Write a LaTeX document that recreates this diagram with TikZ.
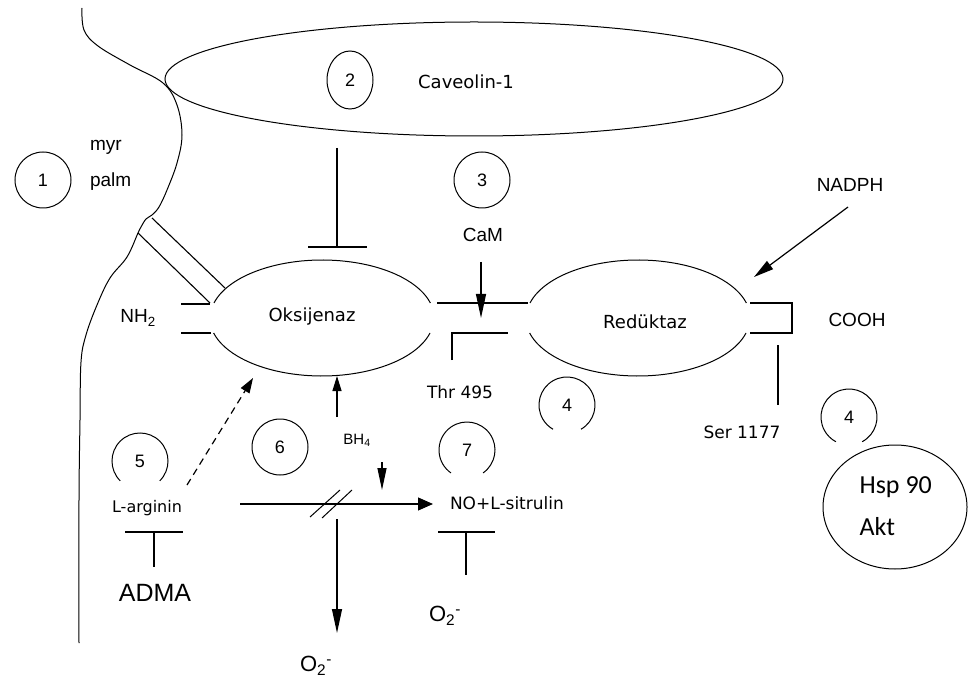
\documentclass[tikz,border=0pt]{standalone}
\usepackage{fontspec}
\setmainfont{DejaVu Sans}
\newfontfamily\arialf{Liberation Sans}
\newfontfamily\calf{Carlito}
\usetikzlibrary{arrows.meta,shapes.geometric}
\begin{document}
\begin{tikzpicture}[x=1pt,y=-1pt, line width=1.2pt, line cap=butt,
  lbl/.style={inner sep=0pt, outer sep=0pt, font=\fontsize{18}{20}\selectfont},
  albl/.style={inner sep=0pt, outer sep=0pt, font=\arialf\fontsize{19}{21}\selectfont},
  num/.style={circle, draw, line width=1pt, minimum size=56pt, inner sep=0pt, outer sep=0pt, font=\arialf\fontsize{18}{20}\selectfont},
  onum/.style={circle, minimum size=56pt, inner sep=0pt, outer sep=0pt, font=\arialf\fontsize{18}{20}\selectfont},
  ring/.style={line width=1pt},
  shell/.style={line width=1pt},
  arr/.style={-{Triangle[length=#1,width=10pt]}},
  inhib/.style={line width=1.2pt}
]
\useasboundingbox (0,0) rectangle (976,684);
\fill[white] (0,0) rectangle (976,684);

% membrane
\draw[shell] plot[smooth, tension=0.6] coordinates {(82,8) (84,30) (98,46) (130,65) (163,83) (177,105) (182,135) (177,163) (167,190) (159,207) (152,215) (146,219) (141,227) (138,233) (127,257) (110,278) (97,305) (86,335) (81,362) (80,420) (79,500) (79,643)};

% palmitoyl anchor
\coordinate (anA1) at (138,233);
\coordinate (anA2) at (210,303);
\coordinate (anB1) at (152,218);
\coordinate (anB2) at (225,288);
\draw[line width=1.1pt] (anA1) -- (anA2);
\draw[line width=1.1pt] (anB1) -- (anB2);

% caveolin
\node[ellipse, draw, line width=1pt, minimum width=618pt, minimum height=114pt] (cav) at (474,79) {};
\node[ellipse, draw, line width=1pt, minimum width=46pt, minimum height=58pt, inner sep=0pt, font=\arialf\fontsize{18}{20}\selectfont] (c2) at (350,80) {2};
\node[lbl] (cavt) at (466,82) {Caveolin-1};

% circle 1
\node[num] (c1) at (43,180) {1};
\node[albl, anchor=west] (myr) at (90,147) {myr};
\node[albl, anchor=west] (palm) at (90,182) {palm};

% oksijenaz
\draw[shell] (214,303) arc[start angle=-165, end angle=-15, x radius=112, y radius=58];
\draw[shell] (430,333) arc[start angle=15, end angle=165, x radius=112, y radius=58];
\node[lbl] (oks) at (312,317) {Oksijenaz};

% reduktaz
\draw[shell] (530,303) arc[start angle=-165, end angle=-15, x radius=112, y radius=58];
\draw[shell] (746,333) arc[start angle=15, end angle=165, x radius=112, y radius=58];
\node[lbl] (red) at (645,322) {Redüktaz};

% NH2 stubs
\node[albl] (nh2) at (138,318) {NH\textsubscript{2}};
\coordinate (nhA) at (181,304); \coordinate (nhB) at (210,304);
\coordinate (nhC) at (181,333); \coordinate (nhD) at (211,333);
\draw (nhA) -- (nhB);
\draw (nhC) -- (nhD);

% linker and Thr bracket
\coordinate (lk1) at (437,303); \coordinate (lk2) at (528,303);
\draw (lk1) -- (lk2);
\coordinate (th1) at (452,360); \coordinate (th2) at (452,333); \coordinate (th3) at (508,333);
\draw (th1) -- (th2) -- (th3);
\node[lbl, font=\fontsize{17}{19}\selectfont] (thr) at (460,392) {Thr 495};

% COOH bracket
\coordinate (cb1) at (750,303); \coordinate (cb2) at (792,303);
\coordinate (cb3) at (792,333); \coordinate (cb4) at (750,333);
\draw (cb1) -- (cb2) -- (cb3) -- (cb4);
\node[albl] (cooh) at (857,320) {COOH};
\coordinate (se1) at (778,345); \coordinate (se2) at (778,405);
\draw (se1) -- (se2);
\node[lbl, font=\fontsize{17}{19}\selectfont] (ser) at (742,432) {Ser 1177};

% caveolin inhibition
\coordinate (cv1) at (337,148); \coordinate (cv2) at (337,247);
\coordinate (cvL) at (308,247); \coordinate (cvR) at (367,247);
\draw[inhib] (cv1) -- (cv2);
\draw[inhib] (cvL) -- (cvR);

% circle 3, CaM
\node[num] (c3) at (482,180) {3};
\node[albl] (cam) at (483,235) {CaM};
\coordinate (cm1) at (481,262); \coordinate (cm2) at (481,318);
\draw[-{Triangle[length=24pt,width=10pt]}] (cm1) -- (cm2);

% NADPH
\node[albl] (nadph) at (850,185) {NADPH};
\coordinate (nd1) at (848,207); \coordinate (nd2) at (754,277);
\draw[-{Triangle[length=20pt,width=10pt]}] (nd1) -- (nd2);

% circles 4
\node[onum] (c4a) at (567,405) {4};
\draw[ring] (c4a.-60) arc[start angle=60, end angle=-240, radius=28];
\node[onum] (c4b) at (849,417) {4};
\draw[ring] (c4b.-62) arc[start angle=62, end angle=-242, radius=28];

% Hsp90 / Akt
\node[ellipse, draw, line width=1pt, minimum width=144pt, minimum height=124pt] (hsp) at (895,507) {};
\node[anchor=west, inner sep=0pt, font=\calf\fontsize{26}{28}\selectfont] (hspt) at (859,487) {Hsp 90};
\node[anchor=west, inner sep=0pt, font=\calf\fontsize{26}{28}\selectfont] (akt) at (859,527) {Akt};

% circles 5,6,7
\node[onum] (c5) at (140,461) {5};
\draw[ring] (c5.-45) arc[start angle=45, end angle=-225, radius=28];
\node[num] (c6) at (280,447) {6};
\node[onum] (c7) at (467,450) {7};
\draw[ring] (c7.-55) arc[start angle=55, end angle=-235, radius=28];

% L-arginin, ADMA
\node[lbl, font=\fontsize{16}{18}\selectfont] (larg) at (147,508) {L-arginin};
\coordinate (ad1) at (125,532); \coordinate (ad2) at (183,532);
\coordinate (ad3) at (154,532); \coordinate (ad4) at (154,567);
\draw[inhib] (ad1) -- (ad2);
\draw[inhib] (ad3) -- (ad4);
\node[inner sep=0pt, font=\arialf\fontsize{25}{27}\selectfont] (adma) at (155,593) {ADMA};

% dashed arrow
\coordinate (ds1) at (187,485); \coordinate (ds2) at (253,378);
\draw[dash pattern=on 7pt off 5pt, -{Triangle[length=15pt,width=10pt]}] (ds1) -- (ds2);

% BH4
\node[albl, font=\arialf\fontsize{15}{17}\selectfont] (bh4) at (357,440) {BH\textsubscript{4}};
\coordinate (bu1) at (337,417); \coordinate (bu2) at (337,376);
\draw[-{Triangle[length=15pt,width=9pt]}] (bu1) -- (bu2);
\coordinate (bd1) at (382,462); \coordinate (bd2) at (382,490);
\draw[-{Triangle[length=22pt,width=9pt]}] (bd1) -- (bd2);

% main reaction arrow
\coordinate (ma1) at (240,504); \coordinate (ma2) at (433,504);
\draw[-{Triangle[length=15pt,width=13pt]}] (ma1) -- (ma2);
\draw[line width=1pt] (310,517) -- (340,490);
\draw[line width=1pt] (322,518) -- (352,490);
\node[lbl, font=\fontsize{17}{19}\selectfont, anchor=west] (no) at (450,503) {NO+L-sitrulin};

% superoxide branch
\coordinate (sd1) at (337,519); \coordinate (sd2) at (337,633);
\draw[-{Triangle[length=24pt,width=10pt]}] (sd1) -- (sd2);
\node[inner sep=0pt, font=\arialf\fontsize{22}{24}\selectfont] (o2a) at (316,666) {O\textsubscript{2}\textsuperscript{-}};

% NO inhibition
\coordinate (ni1) at (438,532); \coordinate (ni2) at (495,532);
\coordinate (ni3) at (466,532); \coordinate (ni4) at (466,575);
\draw[inhib] (ni1) -- (ni2);
\draw[inhib] (ni3) -- (ni4);
\node[inner sep=0pt, font=\arialf\fontsize{22}{24}\selectfont] (o2b) at (445,616) {O\textsubscript{2}\textsuperscript{-}};
\end{tikzpicture}
\end{document}
